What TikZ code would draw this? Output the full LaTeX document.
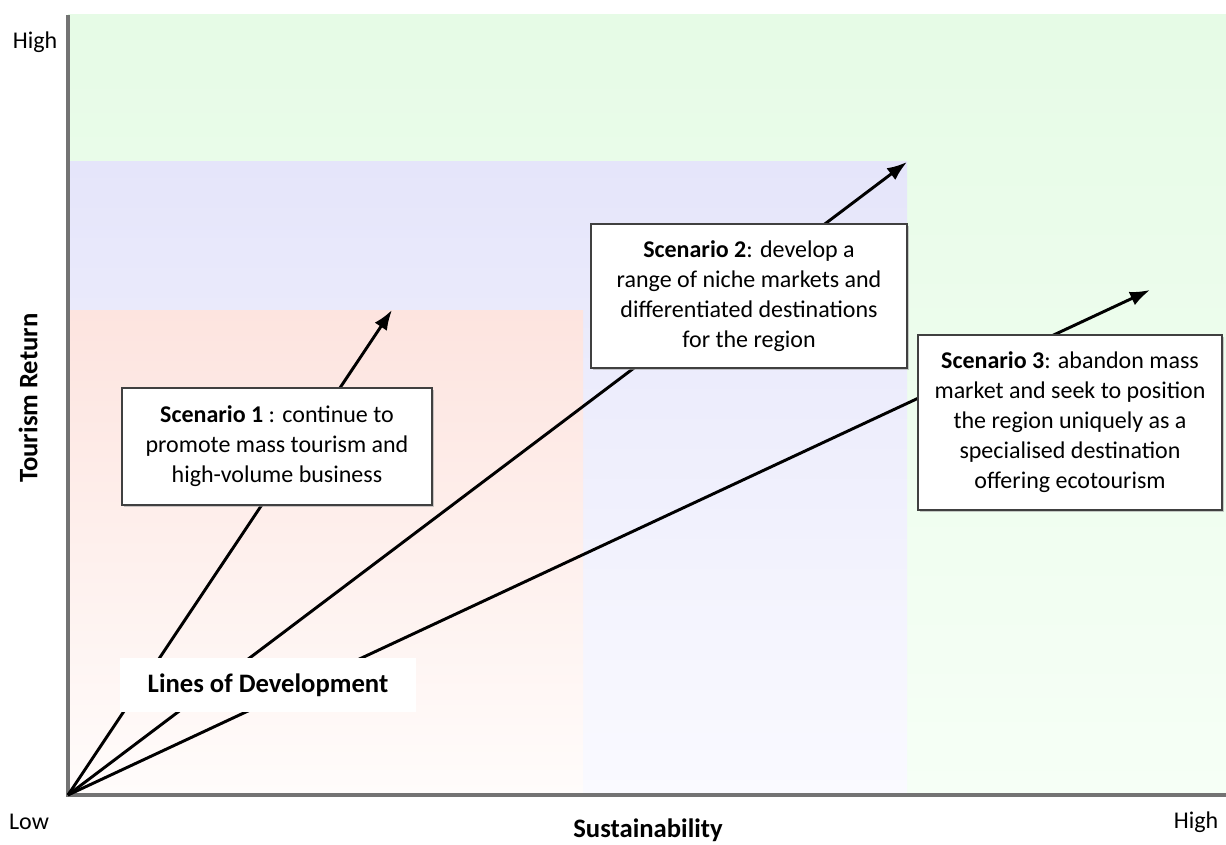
\documentclass[tikz,border=0pt]{standalone}
\usepackage{fontspec}
\setmainfont{Carlito}
\usepackage{tikz}
\usetikzlibrary{arrows.meta, shadows}

\definecolor{greenhi}{HTML}{E6FBE6}
\definecolor{greenlo}{HTML}{F6FFF6}
\definecolor{bluehi}{HTML}{E5E5FA}
\definecolor{bluelo}{HTML}{FAFAFF}
\definecolor{redhi}{HTML}{FDE4DF}
\definecolor{redlo}{HTML}{FFFCFB}

\newcommand{\biglabel}[1]{{\fontsize{20}{24}\selectfont\bfseries #1}}

\begin{document}
\begin{tikzpicture}[x=0.75pt, y=0.75pt, font=\fontsize{18}{22.5}\selectfont]
		\tikzstyle{zone} = [shading angle=-45]
		\tikzstyle{axis} = [draw=black!55, line width=2.4pt]
		\tikzstyle{arrow} = [line width=2.2pt, -{Latex[length=15pt, width=11pt]}]
		\tikzstyle{scenario} = [draw=black!75, line width=1.1pt, fill=white, align=center, inner sep=0pt, drop shadow={shadow xshift=1.2pt, shadow yshift=-1.2pt, fill=black!35, opacity=0.6}]
		\tikzstyle{plain} = [fill=white, inner sep=0pt]
		
		\useasboundingbox (0, 0) rectangle (1226, 844);
		
		\shade[zone, top color=greenhi, bottom color=greenlo]	(68, 49) rectangle (1226, 829);
		\shade[zone, top color=bluehi, bottom color=bluelo]	(68, 49) rectangle (907, 682);
		\shade[zone, top color=redhi, bottom color=redlo]	(68, 49) rectangle (583, 534);
		
		\coordinate		(o)		at (68, 49);
		\coordinate		(ytop)	at (68, 829);
		\coordinate		(xend)	at (1226, 49);
		\coordinate		(t1)	at (392, 534);
		\coordinate		(t2)	at (907, 682);
		\coordinate		(t3)	at (1150, 554);
		
		\draw [axis] (ytop) -- (o) -- (xend);
		
		\draw [arrow] (o) -- (t1);
		\draw [arrow] (o) -- (t2);
		\draw [arrow] (o) -- (t3);
		
		\node[scenario, minimum width=232.5pt, minimum height=87.75pt]	at (277, 397.5)	(s1)	{\textbf{Scenario 1} : continue to\\promote mass tourism and\\high-volume business};
		\node[scenario, minimum width=237pt, minimum height=108pt]		at (749, 548)	(s2)	{\textbf{Scenario 2}: develop a\\range of niche markets and\\differentiated destinations\\for the region};
		\node[scenario, minimum width=228pt, minimum height=131.25pt]	at (1070, 421.5)	(s3)	{\textbf{Scenario 3}: abandon mass\\market and seek to position\\the region uniquely as a\\specialised destination\\offering ecotourism};
		\node[plain, minimum width=222pt, minimum height=40.5pt]		at (268, 159)	(lines)	{\biglabel{Lines of Development}};
		
		\node			at (35, 802)	(yhigh)	{High};
		\node			at (29, 22)		(low)	{Low};
		\node			at (1196, 22)	(xhigh)	{High};
		\node			at (648, 14)	(xlab)	{\biglabel{Sustainability}};
		\node[rotate=90]	at (28, 446)	(ylab)	{\biglabel{Tourism Return}};
	\end{tikzpicture}
\end{document}
